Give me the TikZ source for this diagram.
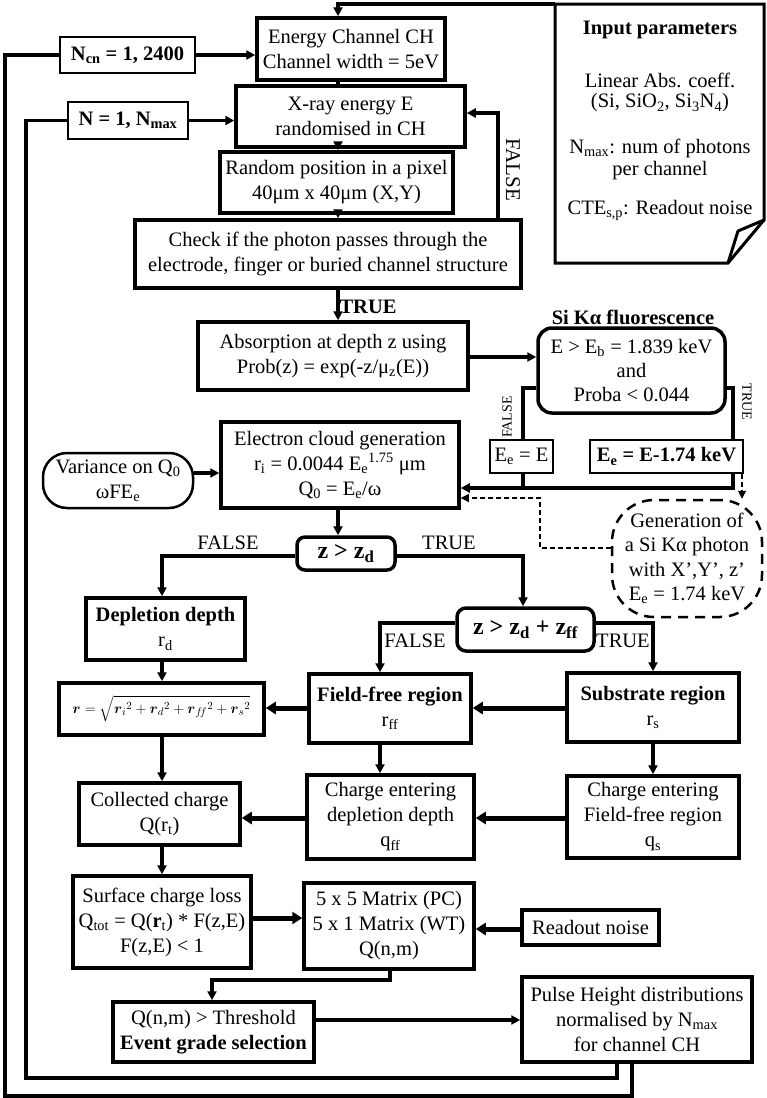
\documentclass[tikz,border=0pt]{standalone}
\usepackage{amsmath}
\usepackage{fontspec}
\setmainfont{Liberation Serif}
\usetikzlibrary{arrows.meta,calc}
\begin{document}
\begin{tikzpicture}[x=1pt,y=-1pt,
  font=\fontsize{20.5}{25}\selectfont,
  tb/.style={draw, line width=3.5pt, fill=white, align=center, inner sep=0pt},
  nb/.style={draw, line width=1.8pt, fill=white, align=center, inner sep=0pt},
  con/.style={line width=3.3pt},
  arr/.style={line width=3.3pt, -{Triangle[length=9pt,width=9pt]}},
  tarr/.style={line width=5pt, -{Triangle[length=10pt,width=12pt]}},
  darr/.style={line width=1.1pt, dash pattern=on 5pt off 3pt, -{Triangle[length=8pt,width=8pt]}},
  lab/.style={inner sep=0pt},
  small/.style={inner sep=0pt, font=\fontsize{14}{14}\selectfont}]
\useasboundingbox (0,0) rectangle (766,1098);

% input parameters document
\draw[line width=3pt, fill=white] (555,4) -- (764,4) -- (764,220) -- (728,263) -- (555,263) -- cycle;
\draw[line width=3pt, line join=round] (764,220) -- (738,231) -- (728,263);
\node[lab, font=\fontsize{20.5}{25}\selectfont\bfseries] (in1) at (660,30) {Input parameters};
\node[lab] (in2) at (660,80) {Linear Abs. coeff.};
\node[lab] (in3) at (660,103) {(Si, SiO\textsubscript{2}, Si\textsubscript{3}N\textsubscript{4})};
\node[lab] (in4) at (660,148) {N\textsubscript{max}: num of photons};
\node[lab] (in5) at (660,171) {per channel};
\node[lab] (in6) at (660,210) {CTE\textsubscript{s,p}: Readout noise};

% nodes
\node[tb, minimum width=188pt, minimum height=62pt] (ech) at (351,49) {Energy Channel CH\\Channel width = 5eV};
\node[nb, minimum width=135pt, minimum height=36pt] (ncn) at (127.5,55) {\bfseries N\textsubscript{cn} = 1, 2400};
\node[tb, minimum width=229pt, minimum height=61pt] (xray) at (350.5,116.5) {X-ray energy E\\randomised in CH};
\node[nb, minimum width=120pt, minimum height=37pt] (nmx) at (128,120.5) {\bfseries N = 1, N\textsubscript{max}};
\node[tb, minimum width=233pt, minimum height=61pt] (rand) at (336.5,182.5) {Random position in a pixel\\40μm x 40μm (X,Y)};
\node[tb, minimum width=386pt, minimum height=68pt] (check) at (328,254) {Check if the photon passes through the\\electrode, finger or buried channel structure};
\node[tb, minimum width=270pt, minimum height=68pt] (abs) at (333,356) {Absorption at depth z using\\Prob(z) = exp(-z/μ\textsubscript{z}(E))};
\node[tb, rounded corners=14pt, minimum width=187pt, minimum height=85pt, font=\fontsize{20.5}{24}\selectfont] (flu) at (631.5,370.5) {E > E\textsubscript{b} = 1.839 keV\\and\\Proba < 0.044};
\node[lab, font=\fontsize{20.5}{25}\selectfont\bfseries] (flut) at (633,317) {Si Kα fluorescence};
\node[nb, minimum width=63pt, minimum height=33pt] (ee1) at (521.5,456.5) {E\textsubscript{e} = E};
\node[nb, minimum width=153pt, minimum height=33pt] (ee2) at (666.5,456.5) {\bfseries E\textsubscript{e} = E-1.74 keV};
\node[tb, minimum width=238pt, minimum height=86pt] (cloud) at (340,465) {Electron cloud generation\\r\textsubscript{i} = 0.0044 E\textsubscript{e}\textsuperscript{1.75} μm\\Q\textsubscript{0} = E\textsubscript{e}/ω};
\node[draw, line width=2.5pt, fill=white, rounded corners=24pt, align=center, inner sep=0pt, minimum width=150pt, minimum height=55pt] (var) at (118,480.5) {Variance on Q\textsubscript{0}\\ωFE\textsubscript{e}};
\node[draw, line width=2.5pt, dash pattern=on 10pt off 7pt, rounded corners=42pt, align=center, inner sep=0pt, minimum width=150pt, minimum height=117pt, font=\fontsize{20.5}{24.5}\selectfont] (gen) at (687,558.5) {Generation of\\a Si Kα photon\\with X’,Y’, z’\\E\textsubscript{e} = 1.74 keV};
\node[tb, rounded corners=8pt, minimum width=98pt, minimum height=33pt, font=\fontsize{24}{24}\selectfont\bfseries] (zd) at (346,553.5) {z > z\textsubscript{d}};
\node[tb, rounded corners=9pt, minimum width=137pt, minimum height=43pt, font=\fontsize{24}{24}\selectfont\bfseries] (zdff) at (525.5,629.5) {z > z\textsubscript{d} + z\textsubscript{ff}};
\node[tb, minimum width=159pt, minimum height=62pt] (depl) at (165.5,629) {\textbf{Depletion depth}\\r\textsubscript{d}};
\node[tb, minimum width=205pt, minimum height=52pt, font=\fontsize{15.5}{18}\selectfont] (rform) at (161.5,709) {$\boldsymbol{r} = \sqrt{\boldsymbol{r}_i{}^{2}+\boldsymbol{r}_d{}^{2}+\boldsymbol{r}_{f\!f}{}^{2}+\boldsymbol{r}_s{}^{2}}$};
\node[tb, minimum width=162pt, minimum height=69pt] (ffree) at (390,708.5) {\textbf{Field-free region}\\r\textsubscript{ff}};
\node[tb, minimum width=172pt, minimum height=69pt] (subst) at (653,707.5) {\textbf{Substrate region}\\r\textsubscript{s}};
\node[tb, minimum width=161pt, minimum height=62pt] (coll) at (159.5,814) {Collected charge\\Q(r\textsubscript{t})};
\node[tb, minimum width=167pt, minimum height=84pt] (cedd) at (390.5,817) {Charge entering\\depletion depth\\q\textsubscript{ff}};
\node[tb, minimum width=172pt, minimum height=82pt] (ceff) at (653,817) {Charge entering\\Field-free region\\q\textsubscript{s}};
\node[tb, minimum width=178pt, minimum height=92pt] (surf) at (162,922) {Surface charge loss\\Q\textsubscript{tot} = Q(\textbf{r}\textsubscript{t}) * F(z,E)\\F(z,E) < 1};
\node[tb, minimum width=170pt, minimum height=86pt] (matrix) at (389,926) {5 x 5 Matrix (PC)\\5 x 1 Matrix (WT)\\Q(n,m)};
\node[tb, minimum width=137pt, minimum height=35pt] (readout) at (590.5,927.5) {Readout noise};
\node[tb, minimum width=201pt, minimum height=60pt] (thresh) at (213.5,1032) {Q(n,m) > Threshold\\\textbf{Event grade selection}};
\node[tb, minimum width=230pt, minimum height=85pt] (pulse) at (637,1019.5) {Pulse Height distributions\\normalised by N\textsubscript{max}\\for channel CH};

% labels
\node[lab, font=\fontsize{20.5}{25}\selectfont\bfseries] (ltrue1) at (368,307) {TRUE};
\node[lab, rotate=-90, font=\fontsize{21}{21}\selectfont] (lfalse1) at (513,170) {FALSE};
\node[small, rotate=90] (lfalse2) at (507,417) {FALSE};
\node[small, rotate=-90] (ltrue2) at (747,402) {TRUE};
\node[lab] (lfalse3) at (228,543) {FALSE};
\node[lab] (ltrue3) at (449,543) {TRUE};
\node[lab] (lfalse4) at (415,641) {FALSE};
\node[lab] (ltrue4) at (623,641) {TRUE};

% helper coordinates
\coordinate (ax) at (338,0);
\coordinate (intl) at (555,4);
\coordinate (fx) at (498,113);
\coordinate (ay) at (0,357);
\coordinate (fl) at (523,388);
\coordinate (tr) at (733,388);
\coordinate (cy) at (0,488);
\coordinate (dx) at (742,0);
\coordinate (d1) at (540,548);
\coordinate (d2) at (540,498);
\coordinate (vy) at (0,473);
\coordinate (zy) at (162,556);
\coordinate (zt) at (523,556);
\coordinate (zf) at (380,623);
\coordinate (zs) at (653,623);
\coordinate (lx) at (162,0);
\coordinate (my) at (0,708);
\coordinate (cy2) at (0,818);
\coordinate (sy) at (0,918);
\coordinate (ry) at (0,929);
\coordinate (m1) at (390,980);
\coordinate (m2) at (212,980);
\coordinate (ty) at (0,1020);
\coordinate (i1) at (617,1078);
\coordinate (i2) at (26,1078);
\coordinate (o1) at (632,1096);
\coordinate (o2) at (5,1096);

% connectors
\draw[arr] (intl) -| (ech.north -| ax);
\draw[arr] (ncn.east) -- (ncn.east -| ech.west);
\draw[arr] (nmx.east) -- (nmx.east -| xray.west);
\draw[con] (ech.south -| ax) -- (xray.north -| ax);
\draw[arr] (xray.south -| ax) -- (rand.north -| ax);
\draw[arr] (rand.south -| ax) -- (check.north -| ax);
\draw[arr] (check.south -| ax) -- (abs.north -| ax);
\draw[arr] (check.north -| fx) |- (xray.east |- fx);
\draw[arr] (abs.east |- ay) -- (flu.west |- ay);
\draw[con] (flu.west |- fl) -| (ee1.north -| fl);
\draw[con] (ee1.south -| fl) -- (fl |- cy);
\draw[con] (flu.east |- tr) -| (ee2.north -| tr);
\draw[arr] (ee2.south -| tr) |- (cloud.east |- cy);
\draw[darr] (ee2.south -| dx) -- (gen.north -| dx);
\draw[darr] (gen.west |- d1) -- (d1) |- (cloud.east |- d2);
\draw[arr] (var.east |- vy) -- (cloud.west |- vy);
\draw[arr] (cloud.south -| ax) -- (zd.north -| ax);
\draw[arr] (zd.west |- zy) -| (depl.north -| zy);
\draw[arr] (zd.east |- zt) -| (zdff.north -| zt);
\draw[arr] (zdff.west |- zf) -| (ffree.north -| zf);
\draw[arr] (zdff.east |- zs) -| (subst.north -| zs);
\draw[arr] (depl.south -| lx) -- (rform.north -| lx);
\draw[arr] (rform.south -| lx) -- (coll.north -| lx);
\draw[arr] (coll.south -| lx) -- (surf.north -| lx);
\draw[tarr] (ffree.west |- my) -- (rform.east |- my);
\draw[tarr] (subst.west |- my) -- (ffree.east |- my);
\draw[arr] (ffree.south -| zf) -- (cedd.north -| zf);
\draw[arr] (subst.south -| zs) -- (ceff.north -| zs);
\draw[tarr] (ceff.west |- cy2) -- (cedd.east |- cy2);
\draw[tarr] (cedd.west |- cy2) -- (coll.east |- cy2);
\draw[tarr] (surf.east |- sy) -- (matrix.west |- sy);
\draw[tarr] (readout.west |- ry) -- (matrix.east |- ry);
\draw[arr] (matrix.south -| m1) -- (m1) -- (m2) -- (thresh.north -| m2);
\draw[arr] (thresh.east |- ty) -- (pulse.west |- ty);
\draw[con] (pulse.south -| i1) -- (i1) -- (i2) |- (nmx.west);
\draw[con] (pulse.south -| o1) -- (o1) -- (o2) |- (ncn.west);
\end{tikzpicture}
\end{document}
